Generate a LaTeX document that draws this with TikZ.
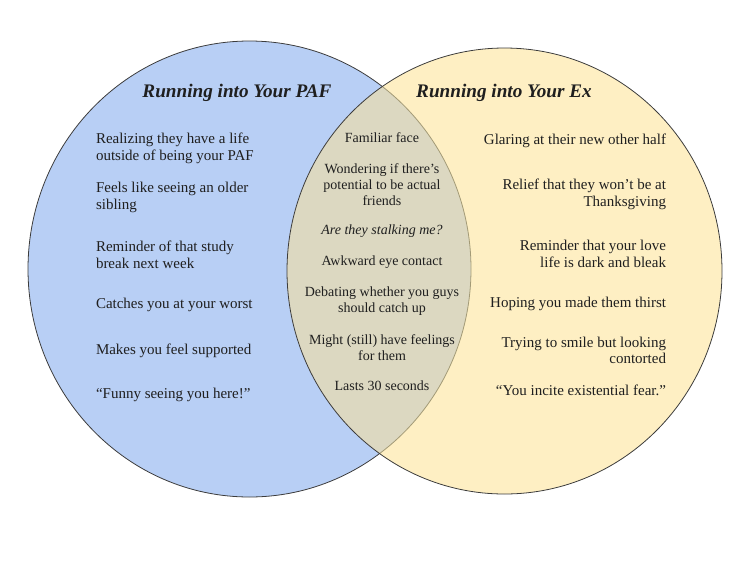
\documentclass[tikz,border=0pt]{standalone}
\usepackage{fontspec}
\setmainfont{Liberation Serif}
\begin{document}
\begin{tikzpicture}[x=1pt,y=-1pt,
  every node/.style={inner sep=0pt,outer sep=0pt,text=black!88},
  body/.style={font=\fontsize{15}{16.8}\selectfont},
  lt/.style={body,anchor=west,align=left},
  rt/.style={body,anchor=east,align=right},
  ct/.style={font=\fontsize{14}{16}\selectfont,anchor=center,align=center},
  ttl/.style={font=\fontsize{19.2}{21}\selectfont\bfseries\itshape,anchor=center}]
\definecolor{cblue}{HTML}{B8CFF5}
\definecolor{cyel}{HTML}{FEEFC3}
\definecolor{clens}{HTML}{DCD8C1}
\definecolor{cedge}{HTML}{3C3C3C}
\definecolor{cinner}{HTML}{A39A76}
\useasboundingbox (0,0) rectangle (746,560);
\def\lefte{(249.5,269) ellipse [x radius=221.5, y radius=228]}
\def\righte{(504.5,271) ellipse [x radius=217.5, y radius=223]}
\fill[cblue] \lefte;
\draw[cedge,line width=0.8pt] \lefte;
\fill[cyel] \righte;
\begin{scope}
  \clip \lefte;
  \fill[clens] \righte;
\end{scope}
\begin{scope}
  \clip \righte;
  \draw[cinner,line width=0.8pt] \lefte;
\end{scope}
\draw[cedge,line width=0.8pt] \righte;
% titles
\node[ttl] (tl) at (237,93) {Running into Your PAF};
\node[ttl] (tr) at (504,93) {Running into Your Ex};
% left
\node[lt] (l1) at (96,148.5) {Realizing they have a life\\outside of being your PAF};
\node[lt] (l2) at (96,197.5) {Feels like seeing an older\\sibling};
\node[lt] (l3) at (96,255) {Reminder of that study\\break next week};
\node[lt] (l4) at (96,305) {Catches you at your worst};
\node[lt] (l5) at (96,350.7) {Makes you feel supported};
\node[lt] (l6) at (96,395) {“Funny seeing you here!”};
% right
\node[rt] (r1) at (666,141) {Glaring at their new other half};
\node[rt] (r2) at (666,194.3) {Relief that they won’t be at\\Thanksgiving};
\node[rt] (r3) at (666,253.8) {Reminder that your love\\life is dark and bleak};
\node[rt] (r4) at (666,304) {Hoping you made them thirst};
\node[rt] (r5) at (666,350.3) {Trying to smile but looking\\contorted};
\node[rt] (r6) at (666,390.7) {“You incite existential fear.”};
% center
\node[ct] (c1) at (382,137.3) {Familiar face};
\node[ct] (c2) at (382,184.3) {Wondering if there’s\\potential to be actual\\friends};
\node[ct,font=\fontsize{14}{16}\selectfont\itshape] (c3) at (382,230.7) {Are they stalking me?};
\node[ct] (c4) at (382,262.3) {Awkward eye contact};
\node[ct] (c5) at (382,301) {Debating whether you guys\\should catch up};
\node[ct] (c6) at (382,347.5) {Might (still) have feelings\\for them};
\node[ct] (c7) at (382,386) {Lasts 30 seconds};
\end{tikzpicture}
\end{document}
